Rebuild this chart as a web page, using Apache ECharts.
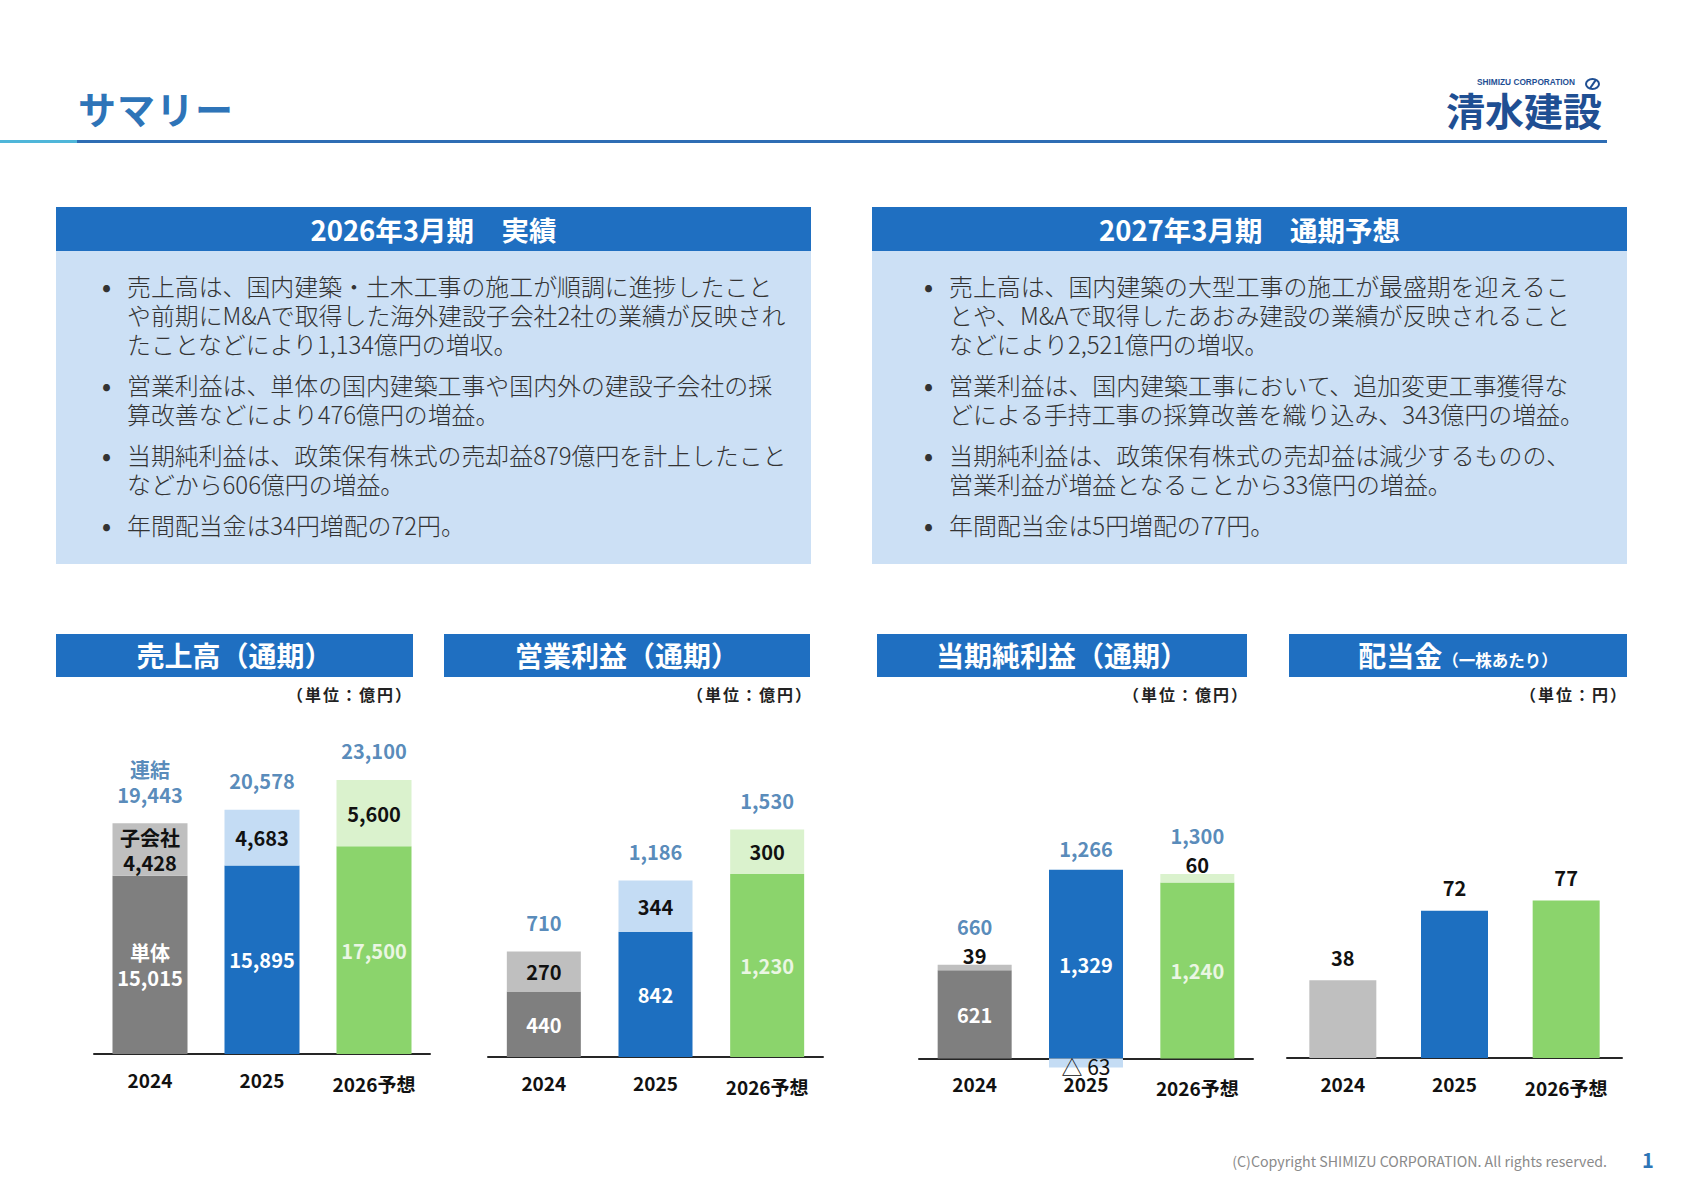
<!DOCTYPE html>
<html lang="ja">
<head>
<meta charset="utf-8">
<title>サマリー</title>
<script src="https://cdn.jsdelivr.net/npm/echarts@6/dist/echarts.min.js"></script>
<style>
	body{
		margin:0;
		background:#fff;
		font-family:'Noto Sans CJK JP','Noto Sans',sans-serif;
	}
	.slide{
		position:relative;
		width:1683px;
		height:1190px;
		overflow:hidden;
		background:#fff;
	}
	.title{
		position:absolute;
		left:78px;
		top:84px;
		line-height:48px;
		font-size:38px;
		font-weight:700;
		color:#2E74B8;
		letter-spacing:1px;
	}
	.rule{ position:absolute; top:140px; height:3px; }
	.rule.light{ left:0; width:77px; background:#4FB6D9; }
	.rule.dark{ left:77px; width:1530px; background:#2E6DB4; }

	.logo-en{
		position:absolute;
		left:1477px;
		top:78px;
		font-family:'Liberation Sans',sans-serif;
		font-size:8.3px;
		line-height:9px;
		font-weight:700;
		color:#1F4F93;
	}
	.logo-mark{
		position:absolute;
		left:1585px;
		top:78px;
		width:11px;
		height:8px;
		border:2px solid #1F4F93;
		border-radius:50%;
	}
	.logo-mark:after{
		content:'';
		position:absolute;
		left:4.5px;
		top:-1px;
		width:2px;
		height:10px;
		background:#1F4F93;
		transform:rotate(35deg);
	}
	.logo-jp{
		position:absolute;
		left:1446px;
		top:89px;
		font-size:39px;
		line-height:40px;
		font-weight:700;
		color:#1F4F93;
	}

	/* 実績・予想のテキストボックス */
	.box{
		position:absolute;
		top:207px;
		width:755px;
		height:357px;
		background:#CCE0F5;
	}
	.box-head{
		height:44px;
		line-height:44px;
		background:#1F6FC1;
		color:#fff;
		font-size:27.5px;
		font-weight:700;
		text-align:center;
	}
	.box ul{
		list-style:none;
		margin:0;
		padding:20px 0 0 71px;
	}
	.box li{
		position:relative;
		font-size:23.9px;
		font-weight:300;
		line-height:29px;
		color:#333;
		white-space:nowrap;
		margin-bottom:12px;
	}
	.box li:before{
		content:'•';
		position:absolute;
		left:-25px;
		font-weight:700;
	}

	/* グラフの見出し */
	.chead{
		position:absolute;
		top:634px;
		height:43px;
		line-height:43px;
		background:#1F6FC1;
		color:#fff;
		font-size:28px;
		font-weight:700;
		text-align:center;
	}
	.chead small{ font-size:16.5px; }
	.unit{
		position:absolute;
		top:684px;
		line-height:20px;
		font-size:16px;
		font-weight:700;
		letter-spacing:2px;
		color:#222;
	}
	#chart{
		position:absolute;
		left:0;
		top:0;
		width:1683px;
		height:1190px;
	}
	.copy{
		position:absolute;
		right:76px;
		top:1151px;
		line-height:20px;
		font-size:14.2px;
		color:#8A8A8A;
	}
	.page{
		position:absolute;
		left:1642px;
		top:1148px;
		line-height:24px;
		font-size:20px;
		font-weight:700;
		color:#2E75B6;
	}
</style>
</head>
<body>
<div class="slide">
	<div class="title">サマリー</div>
	<div class="logo-en">SHIMIZU CORPORATION</div>
	<div class="logo-mark"></div>
	<div class="logo-jp">清水建設</div>
	<div class="rule light"></div>
	<div class="rule dark"></div>

	<div class="box" style="left:56px">
		<div class="box-head">2026年3月期　実績</div>
		<ul>
			<li>売上高は、国内建築・土木工事の施工が順調に進捗したこと<br>や前期にM&amp;Aで取得した海外建設子会社2社の業績が反映され<br>たことなどにより1,134億円の増収。</li>
			<li>営業利益は、単体の国内建築工事や国内外の建設子会社の採<br>算改善などにより476億円の増益。</li>
			<li>当期純利益は、政策保有株式の売却益879億円を計上したこと<br>などから606億円の増益。</li>
			<li>年間配当金は34円増配の72円。</li>
		</ul>
	</div>
	<div class="box" style="left:872px">
		<div class="box-head">2027年3月期　通期予想</div>
		<ul style="padding-left:77px">
			<li>売上高は、国内建築の大型工事の施工が最盛期を迎えるこ<br>とや、M&amp;Aで取得したあおみ建設の業績が反映されること<br>などにより2,521億円の増収。</li>
			<li>営業利益は、国内建築工事において、追加変更工事獲得な<br>どによる手持工事の採算改善を織り込み、343億円の増益。</li>
			<li>当期純利益は、政策保有株式の売却益は減少するものの、<br>営業利益が増益となることから33億円の増益。</li>
			<li>年間配当金は5円増配の77円。</li>
		</ul>
	</div>

	<div class="chead" style="left:56px;width:357px">売上高（通期）</div>
	<div class="chead" style="left:444px;width:366px">営業利益（通期）</div>
	<div class="chead" style="left:877px;width:370px">当期純利益（通期）</div>
	<div class="chead" style="left:1289px;width:338px">配当金<small>（一株あたり）</small></div>
	<div class="unit" style="right:1270px">（単位：億円）</div>
	<div class="unit" style="right:870px">（単位：億円）</div>
	<div class="unit" style="right:434px">（単位：億円）</div>
	<div class="unit" style="right:55px">（単位：円）</div>

	<div id="chart"></div>

	<div class="copy">(C)Copyright SHIMIZU CORPORATION. All rights reserved.</div>
	<div class="page">1</div>
</div>
<script>
	// 年度
	const years = ['2024', '2025', '2026予想'];
	// 売上高（億円）
	const salesTanTai = [15015, 15895, 17500];
	const salesKoGaisha = [4428, 4683, 5600];
	const salesRenketsu = [19443, 20578, 23100];
	// 営業利益（億円）
	const opTanTai = [440, 842, 1230];
	const opKoGaisha = [270, 344, 300];
	const opRenketsu = [710, 1186, 1530];
	// 当期純利益（億円）
	const netTanTai = [621, 1329, 1240];
	const netKoGaisha = [39, -63, 60];
	const netRenketsu = [660, 1266, 1300];
	// 配当金（円）
	const dividend = [38, 72, 77];

	const FONT = "'Noto Sans CJK JP', sans-serif";
	const darkColors = ['#7F7F7F', '#1D6FC0', '#8BD46C'];
	const lightColors = ['#BFBFBF', '#C4DCF4', '#DAF2CD'];
	const tanTaiLabelColors = ['#FFFFFF', '#FFFFFF', '#EAF6E3'];
	const divColors = ['#BFBFBF', '#1D6FC0', '#8BD46C'];

	const grids = [
		{ left: 94, top: 698, width: 336, height: 356 },
		{ left: 488, top: 700, width: 335, height: 357 },
		{ left: 919, top: 739, width: 334, height: 355 },
		{ left: 1287, top: 700, width: 335, height: 358 }
	];
	const yRanges = [[0, 30000], [0, 2400], [-250, 2250], [0, 175]];
	const barWidths = [75, 74, 74, 67];
	// 純利益のグラフは下にはみ出す分だけラベルを上げる
	const labelMargins = [16, 16, -20, 16];

	function fmt(v){
		return Math.abs(v).toLocaleString('en-US');
	}

	function stackSeries(k, tanTai, koGaisha, renketsu){
		const onTop = k === 2;   // 純利益は子会社分を棒の上に表示
		const base = { type: 'bar', xAxisIndex: k, yAxisIndex: k, stack: 's' + k, barWidth: barWidths[k], silent: true };
		const lbl = { show: true, fontFamily: FONT, fontSize: 20, fontWeight: 'bold', lineHeight: 25 };
		return [
			Object.assign({}, base, {
				data: tanTai.map((v, j) => ({ value: v, itemStyle: { color: darkColors[j] }, label: { color: tanTaiLabelColors[j] } })),
				label: Object.assign({}, lbl, {
					position: 'inside',
					formatter: p => (k === 0 && p.dataIndex === 0 ? '単体\n' : '') + fmt(p.value)
				})
			}),
			Object.assign({}, base, {
				data: koGaisha.map((v, j) => ({
					value: v,
					itemStyle: { color: lightColors[j] },
					// マイナスは△表記で棒の下側に
					label: v < 0 ? { position: 'inside', offset: [0, 3], fontWeight: 'normal', fontSize: 21 } : {}
				})),
				label: Object.assign({}, lbl, {
					position: onTop ? 'top' : 'inside',
					distance: -3,
					color: '#111',
					formatter: p => (k === 0 && p.dataIndex === 0 ? '子会社\n' : '') + (p.value < 0 ? '△ ' : '') + fmt(p.value)
				})
			}),
			{
				type: 'scatter', xAxisIndex: k, yAxisIndex: k, silent: true,
				symbolSize: 1, itemStyle: { color: 'rgba(0,0,0,0)' },
				data: renketsu.map((v, j) => ({
					value: tanTai[j] + Math.max(koGaisha[j], 0),
					label: { distance: onTop ? (koGaisha[j] > 0 ? 25 : 8) : 16 }
				})),
				label: Object.assign({}, lbl, {
					position: 'top',
					color: '#2D6DA8',
					formatter: p => (k === 0 && p.dataIndex === 0 ? '連結\n' : '') + fmt(renketsu[p.dataIndex])
				})
			}
		];
	}

	const chart = echarts.init(document.getElementById('chart'), null, { renderer: 'svg' });
	chart.setOption({
		backgroundColor: 'transparent',
		animation: false,
		grid: grids,
		xAxis: grids.map((g, k) => ({
			type: 'category',
			gridIndex: k,
			data: years,
			axisTick: { show: false },
			axisLine: { onZero: true, lineStyle: { color: '#262626', width: 2 } },
			axisLabel: {
				interval: 0,
				color: '#111',
				fontSize: 19,
				fontWeight: 'bold',
				fontFamily: FONT,
				margin: labelMargins[k],
				formatter: v => v.indexOf('予想') > 0 ? '{f|' + v + '}' : v,
				rich: { f: { fontSize: 19, fontWeight: 'bold', fontFamily: FONT, color: '#111', padding: [4, 0, 0, 0] } }
			}
		})),
		yAxis: yRanges.map((r, k) => ({
			type: 'value', gridIndex: k, min: r[0], max: r[1], show: false, splitLine: { show: false }
		})),
		series: [].concat(
			stackSeries(0, salesTanTai, salesKoGaisha, salesRenketsu),
			stackSeries(1, opTanTai, opKoGaisha, opRenketsu),
			stackSeries(2, netTanTai, netKoGaisha, netRenketsu),
			[{
				type: 'bar', xAxisIndex: 3, yAxisIndex: 3, barWidth: barWidths[3], silent: true,
				data: dividend.map((v, j) => ({ value: v, itemStyle: { color: divColors[j] } })),
				label: { show: true, position: 'top', distance: 12, color: '#111', fontFamily: FONT, fontSize: 20, fontWeight: 'bold', lineHeight: 22 }
			}]
		)
	});
</script>
</body>
</html>
